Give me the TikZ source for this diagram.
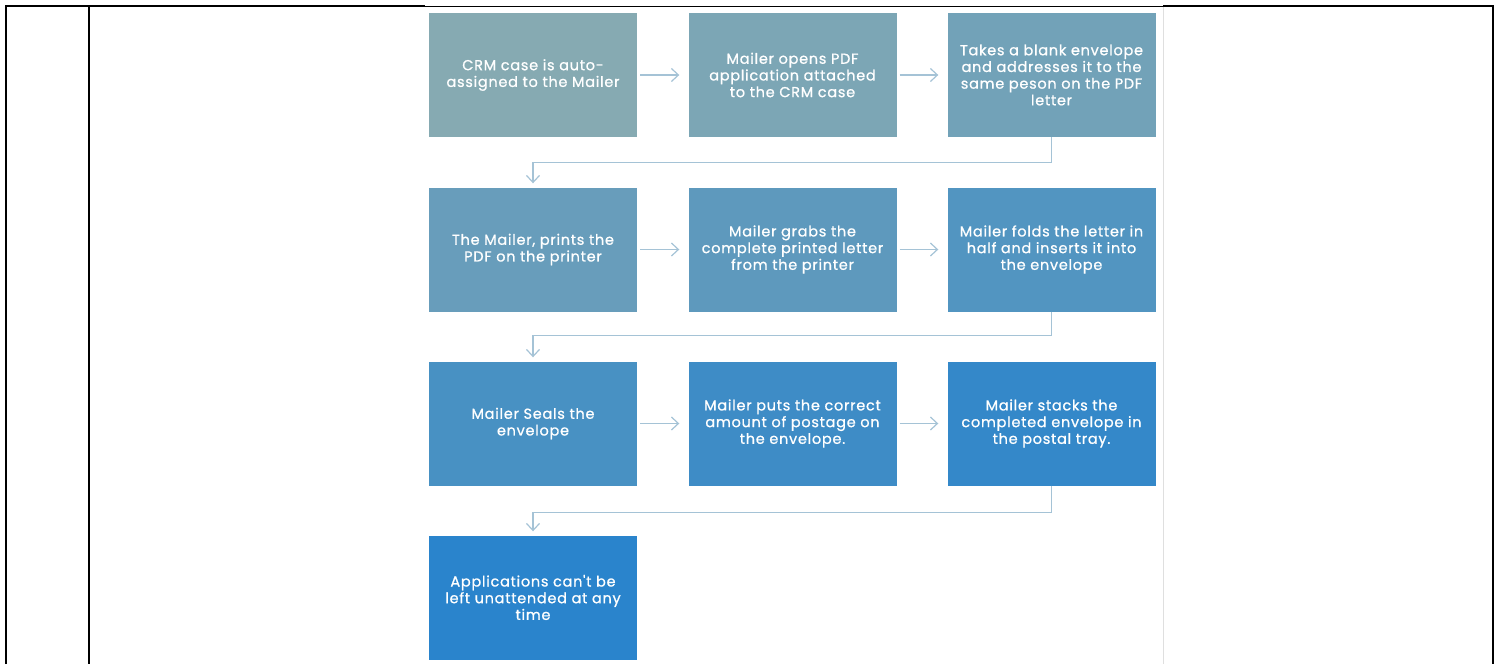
\documentclass[tikz,border=0pt]{standalone}
\usepackage{fontspec}
\setmainfont{Poppins}
\newfontfamily\boxfont[LetterSpace=5,FakeBold=0.8]{Poppins}
\usetikzlibrary{arrows.meta}
\definecolor{cA}{RGB}{134,170,178}
\definecolor{cB}{RGB}{42,132,204}
\definecolor{conn}{RGB}{165,195,214}
\tikzset{
  stepbox/.style={fill=#1, text=white, minimum width=208pt, minimum height=124pt,
    align=center, font=\boxfont\fontsize{14.5}{16.7}\selectfont, inner sep=0pt},
  flow/.style={draw=conn, line width=1.2pt, -{Straight Barb[length=7pt,width=13pt]}},
  frameline/.style={black, line width=1.8pt}
}
\begin{document}
\begin{tikzpicture}[x=1pt,y=-1pt]
\useasboundingbox (0,0) rectangle (1499,664);
% frame
\draw[frameline] (6,664) -- (6,6) -- (425,6);
\draw[black, line width=1pt] (425,6) -- (1163,6);
\draw[frameline] (1163,6) -- (1493,6) -- (1493,664);
\draw[frameline] (89,6) -- (89,664);
\draw[gray!25, line width=1pt] (1163,7) -- (1163,664);
% boxes
\node[stepbox=cA] (n1) at (533,75) {CRM case is auto-\\assigned to the Mailer};
\node[stepbox=cA!89!cB] (n2) at (792.5,75) {Mailer opens PDF\\application attached\\to the CRM case};
\node[stepbox=cA!78!cB] (n3) at (1051.5,75) {Takes a blank envelope\\and addresses it to the\\same peson on the PDF\\letter};
\node[stepbox=cA!67!cB] (n4) at (533,249.5) {The Mailer, prints the\\PDF on the printer};
\node[stepbox=cA!56!cB] (n5) at (792.5,249.5) {Mailer grabs the\\complete printed letter\\from the printer};
\node[stepbox=cA!44!cB] (n6) at (1051.5,249.5) {Mailer folds the letter in\\half and inserts it into\\the envelope};
\node[stepbox=cA!33!cB] (n7) at (533,423.5) {Mailer Seals the\\envelope};
\node[stepbox=cA!22!cB] (n8) at (792.5,423.5) {Mailer puts the correct\\amount of postage on\\the envelope.};
\node[stepbox=cA!11!cB] (n9) at (1051.5,423.5) {Mailer stacks the\\completed envelope in\\the postal tray.};
\node[stepbox=cB] (n10) at (533,597.5) {Applications can't be\\left unattended at any\\time};
% connectors
\draw[flow, shorten <=3pt, shorten >=9pt] (n1) -- (n2);
\draw[flow, shorten <=3pt, shorten >=9pt] (n2) -- (n3);
\draw[flow, shorten <=3pt, shorten >=9pt] (n4) -- (n5);
\draw[flow, shorten <=3pt, shorten >=9pt] (n5) -- (n6);
\draw[flow, shorten <=3pt, shorten >=9pt] (n7) -- (n8);
\draw[flow, shorten <=3pt, shorten >=9pt] (n8) -- (n9);
\draw[flow, shorten >=4pt] (n3.south) -- ++(0,25) -| (n4.north);
\draw[flow, shorten >=4pt] (n6.south) -- ++(0,24) -| (n7.north);
\draw[flow, shorten >=4pt] (n9.south) -- ++(0,27) -| (n10.north);
\end{tikzpicture}
\end{document}
